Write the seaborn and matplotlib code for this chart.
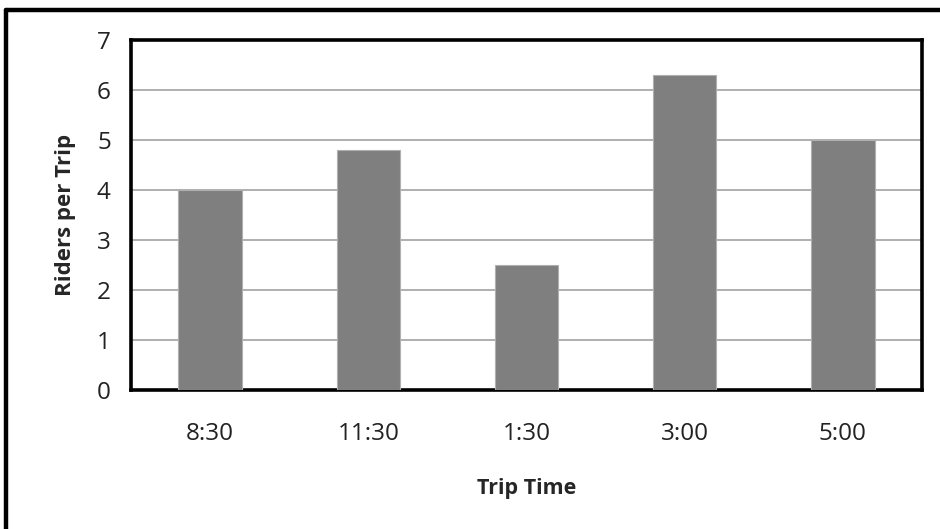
import matplotlib
matplotlib.use("Agg")
import matplotlib.pyplot as plt
from matplotlib.lines import Line2D
import seaborn as sns
import pandas as pd

trip_times = ["8:30", "11:30", "1:30", "3:00", "5:00"]
riders = [4.0, 4.8, 2.5, 6.3, 5.0]
y_ticks = [0, 1, 2, 3, 4, 5, 6, 7]

sns.set_style("white")
plt.rcParams["font.family"] = ["Open Sans", "DejaVu Sans"]

df = pd.DataFrame({"Trip Time": trip_times, "Riders": riders})

fig = plt.figure(figsize=(9.4, 5.29), dpi=100)
ax = fig.add_axes([131 / 940, 1 - 390 / 529, (922 - 131) / 940, (390 - 40) / 529])

sns.barplot(data=df, x="Trip Time", y="Riders", order=trip_times, color="#7f7f7f",
            saturation=1, width=0.4, edgecolor="#b0b0b0", linewidth=0.8, ax=ax, zorder=3)

ax.set_ylim(0, 7)
ax.set_xlim(-0.5, len(trip_times) - 0.5)
ax.set_yticks(y_ticks)
ax.set_yticklabels([str(v) for v in y_ticks], fontsize=17.5, color="#222222")
ax.set_xticks(range(len(trip_times)))
ax.set_xticklabels(trip_times, fontsize=17.5, color="#222222")
ax.set_xticks([i - 0.5 for i in range(len(trip_times) + 1)], minor=True)

ax.grid(axis="y", color="#9a9a9a", linewidth=1.1, zorder=0)
ax.set_axisbelow(True)

ax.tick_params(axis="x", which="major", length=0, pad=23)
ax.tick_params(axis="x", which="minor", length=6.5, width=1, color="#8a8a8a", direction="out")
ax.tick_params(axis="y", which="major", length=6.5, width=1, color="#8a8a8a", direction="out", pad=8)

for side in ["left", "right", "top", "bottom"]:
    ax.spines[side].set_visible(True)
    ax.spines[side].set_color("black")
    ax.spines[side].set_linewidth(2.6)

ax.set_xlabel("Trip Time", fontsize=15.5, fontweight="bold", labelpad=23)
ax.set_ylabel("Riders per Trip", fontsize=16, fontweight="bold", labelpad=15)

# outer frame along the top and left edges of the figure
fig.add_artist(Line2D([6 / 940, 1.0], [1 - 10 / 529, 1 - 10 / 529], color="black",
                      linewidth=3.2, transform=fig.transFigure))
fig.add_artist(Line2D([6 / 940, 6 / 940], [0.0, 1 - 10 / 529], color="black",
                      linewidth=3.2, transform=fig.transFigure))

fig.savefig("out.png", dpi=100, facecolor="white")
